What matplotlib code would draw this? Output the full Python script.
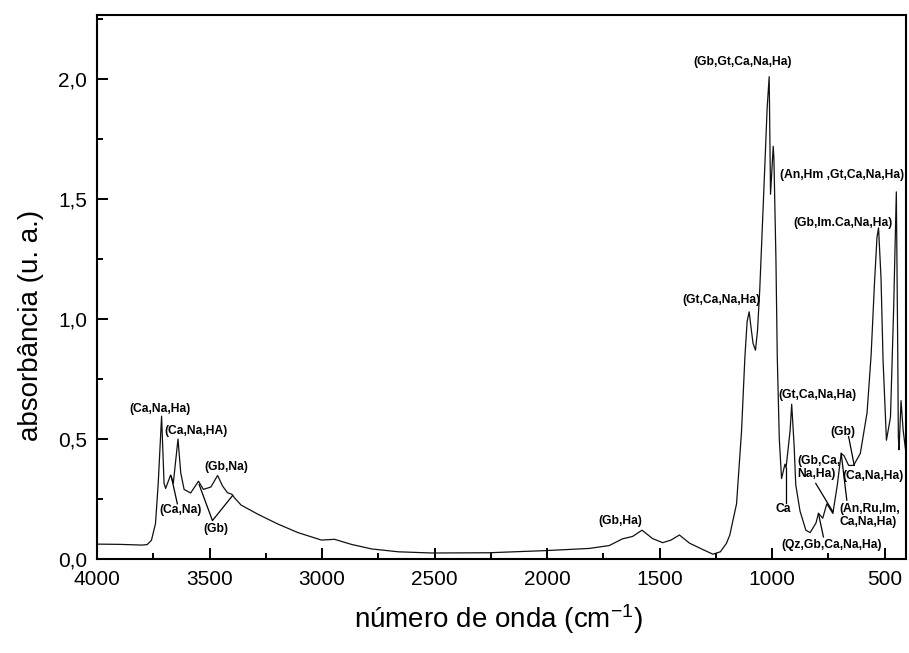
import matplotlib
matplotlib.use("Agg")
import matplotlib.pyplot as plt
from matplotlib.ticker import MultipleLocator, FuncFormatter

plt.rcParams['font.family'] = ['Liberation Sans', 'DejaVu Sans']
plt.rcParams['mathtext.default'] = 'regular'

# spectrum (wavenumber in cm-1, absorbance)
wavenumber = [4000, 3900, 3800, 3777, 3758, 3740, 3728, 3713, 3702, 3695,
              3673, 3661, 3640, 3628, 3613, 3584, 3549, 3527, 3494, 3464,
              3442, 3420, 3401, 3390, 3360, 3286, 3197, 3107, 3003, 2944,
              2870, 2780, 2661, 2512, 2259, 2006, 1813, 1724, 1665, 1620,
              1578, 1531, 1486, 1449, 1412, 1367, 1307, 1263, 1230, 1203,
              1188, 1158, 1136, 1121, 1111, 1102, 1093, 1085, 1074, 1065,
              1055, 1037, 1022, 1013, 1007, 995, 992, 983, 977, 968,
              958, 943, 938, 920, 913, 902, 895, 876, 850, 831,
              805, 794, 775, 757, 730, 710, 693, 680, 660, 638,
              608, 578, 560, 545, 534, 527, 516, 507, 492, 474,
              460, 448, 442, 439, 436, 427, 418, 407]
absorbance = [0.062, 0.061, 0.058, 0.060, 0.078, 0.148, 0.315, 0.595, 0.315, 0.294,
              0.350, 0.316, 0.500, 0.360, 0.290, 0.275, 0.324, 0.290, 0.300, 0.348,
              0.304, 0.276, 0.270, 0.256, 0.225, 0.187, 0.146, 0.110, 0.079, 0.082,
              0.061, 0.042, 0.030, 0.025, 0.026, 0.035, 0.044, 0.056, 0.084, 0.094,
              0.120, 0.085, 0.068, 0.079, 0.100, 0.066, 0.039, 0.020, 0.030, 0.065,
              0.100, 0.230, 0.530, 0.840, 0.990, 1.030, 0.960, 0.900, 0.870, 0.950,
              1.120, 1.530, 1.880, 2.010, 1.520, 1.720, 1.670, 1.250, 0.840, 0.500,
              0.335, 0.395, 0.380, 0.535, 0.645, 0.470, 0.310, 0.200, 0.120, 0.110,
              0.150, 0.190, 0.170, 0.230, 0.190, 0.310, 0.440, 0.430, 0.390, 0.390,
              0.440, 0.610, 0.850, 1.150, 1.340, 1.380, 1.170, 0.830, 0.495, 0.590,
              1.040, 1.530, 0.900, 0.510, 0.455, 0.660, 0.540, 0.455]

# band assignments: text, x, y, alignment
label_text = ["(Ca,Na,Ha)", "(Ca,Na,HA)", "(Gb,Na)", "(Ca,Na)", "(Gb)", "(Gb,Ha)",
              "(Gb,Gt,Ca,Na,Ha)", "(Gt,Ca,Na,Ha)", "(An,Hm ,Gt,Ca,Na,Ha)",
              "(Gb,Im.Ca,Na,Ha)", "(Gt,Ca,Na,Ha)", "Ca", "(Gb,Ca,\nNa,Ha)", "(Gb)",
              "(Ca,Na,Ha)", "(An,Ru,Im,\nCa,Na,Ha)", "(Qz,Gb,Ca,Na,Ha)"]
label_x = [3719, 3701, 3426, 3630, 3473, 1675, 1133, 1224, 414, 907, 970, 952,
           889, 686, 414, 702, 735]
label_y = [0.625, 0.533, 0.385, 0.205, 0.125, 0.158, 2.07, 1.08, 1.60, 1.40, 0.683,
           0.21, 0.38, 0.53, 0.345, 0.18, 0.058]
label_ha = ['center', 'left', 'center', 'center', 'center', 'center', 'center',
            'center', 'right', 'left', 'left', 'center', 'left', 'center', 'right',
            'left', 'center']

# leader lines from labels to bands
leader_x = [[3643, 3670], [3546, 3487, 3397], [940, 940], [806, 730], [660, 635],
            [668, 693], [772, 794]]
leader_y = [[0.23, 0.345], [0.31, 0.16, 0.265], [0.38, 0.235], [0.315, 0.197],
            [0.51, 0.39], [0.245, 0.44], [0.092, 0.19]]

fig = plt.figure(figsize=(9.09, 6.53), dpi=100)
ax = fig.add_axes([97 / 909, 1 - 559 / 653, 809 / 909, 544 / 653])

ax.plot(wavenumber, absorbance, color='#111111', lw=0.9)

for xs, ys in zip(leader_x, leader_y):
    ax.plot(xs, ys, color='black', lw=0.9)

for t, x, y, ha in zip(label_text, label_x, label_y, label_ha):
    ax.text(x, y, t, ha=ha, va='center', fontsize=8.7, fontweight='bold',
            linespacing=1.1, clip_on=False)

ax.set_xlim(4000, 405)
ax.set_ylim(0, 2.267)
ax.xaxis.set_major_locator(MultipleLocator(500))
ax.xaxis.set_minor_locator(MultipleLocator(250))
ax.yaxis.set_major_locator(MultipleLocator(0.5))
ax.yaxis.set_minor_locator(MultipleLocator(0.25))
ax.yaxis.set_major_formatter(FuncFormatter(lambda v, p: f"{v:.1f}".replace('.', ',')))

ax.tick_params(which='both', direction='in', top=False, right=False, width=1.4)
ax.tick_params(which='major', length=8, labelsize=15)
ax.tick_params(axis='x', which='major', pad=8)
ax.tick_params(axis='y', which='major', pad=7)
ax.tick_params(which='minor', length=4.5)
for s in ax.spines.values():
    s.set_linewidth(1.5)

ax.set_xlabel("número de onda (cm$^{-1}$)", fontsize=20)
ax.set_ylabel("absorbância (u. a.)", fontsize=20)
ax.xaxis.set_label_coords(0.496, -0.08)
ax.yaxis.set_label_coords(-0.066, 0.43)

fig.savefig("out.png", dpi=100)
